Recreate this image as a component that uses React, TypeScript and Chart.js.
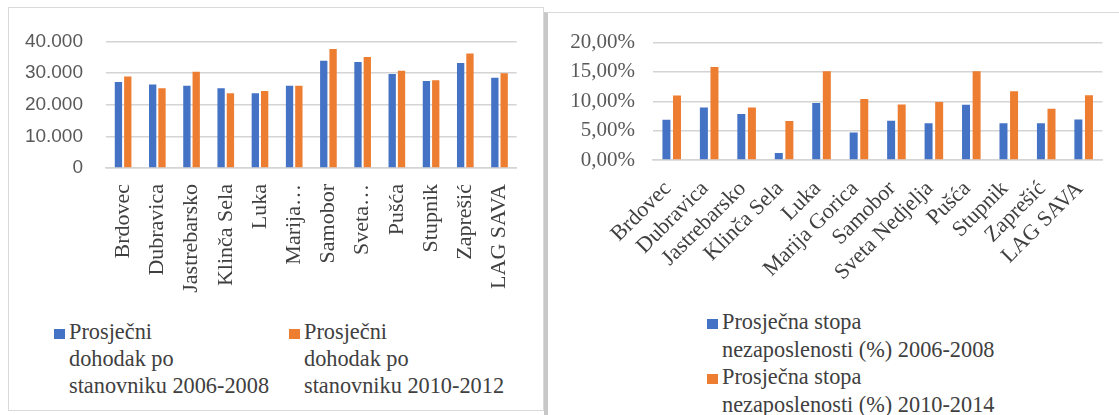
import React, { useEffect, useRef } from 'react';
import { Chart, registerables } from 'chart.js';

Chart.register(...registerables);

// ---- data ----
const categories = ['Brdovec', 'Dubravica', 'Jastrebarsko', 'Klinča Sela', 'Luka', 'Marija Gorica', 'Samobor', 'Sveta Nedjelja', 'Pušća', 'Stupnik', 'Zaprešić', 'LAG SAVA'];
const incomeCategoryLabels = ['Brdovec', 'Dubravica', 'Jastrebarsko', 'Klinča Sela', 'Luka', 'Marija…', 'Samobor', 'Sveta…', 'Pušća', 'Stupnik', 'Zaprešić', 'LAG SAVA'];

const income2006_2008 = [27200, 26400, 26000, 25200, 23600, 26000, 33900, 33500, 29700, 27500, 33200, 28500];
const income2010_2012 = [28900, 25200, 30400, 23600, 24300, 26000, 37600, 35100, 30700, 27700, 36200, 29900];

const unemployment2006_2008 = [6.85, 8.95, 7.85, 1.2, 9.7, 4.7, 6.7, 6.25, 9.4, 6.25, 6.25, 6.9];
const unemployment2010_2014 = [11.0, 15.85, 8.95, 6.65, 15.1, 10.4, 9.45, 9.9, 15.1, 11.7, 8.75, 11.05];

const incomeTickLabels = ['0', '10.000', '20.000', '30.000', '40.000'];
const unemploymentTickLabels = ['0,00%', '5,00%', '10,00%', '15,00%', '20,00%'];

const incomeSeriesNames = ['Prosječni dohodak po stanovniku 2006-2008', 'Prosječni dohodak po stanovniku 2010-2012'];
const incomeLegendLines = [
  ['Prosječni', 'dohodak po', 'stanovniku 2006-2008'],
  ['Prosječni', 'dohodak po', 'stanovniku 2010-2012'],
];
const unemploymentSeriesNames = ['Prosječna stopa nezaposlenosti (%) 2006-2008', 'Prosječna stopa nezaposlenosti (%) 2010-2014'];
const unemploymentLegendLines = [
  ['Prosječna stopa', 'nezaposlenosti (%) 2006-2008'],
  ['Prosječna stopa', 'nezaposlenosti (%) 2010-2014'],
];

const BLUE = '#4472C4';
const ORANGE = '#ED7D31';
const GRID = '#d4d4d4';
const SERIF = '"Liberation Serif", "Times New Roman", serif';
const SANS = '"Liberation Sans", Arial, sans-serif';

function useBarChart(
  ref: React.RefObject<HTMLCanvasElement>,
  cfg: {
    labels: string[];
    series: { name: string; data: number[]; color: string }[];
    max: number;
    step: number;
    tickLabels: string[];
    yFont: any;
    yPadding: number;
    yWidth: number;
    xHeight: number;
    xRotation: number;
    xPadding: number;
    xLabelOffset: number;
    layoutPadding: any;
    categoryPercentage: number;
    barPercentage: number;
  }
) {
  useEffect(() => {
    if (!ref.current) return;
    const chart = new Chart(ref.current, {
      type: 'bar',
      data: {
        labels: cfg.labels,
        datasets: cfg.series.map((s) => ({
          label: s.name,
          data: s.data,
          backgroundColor: s.color,
          borderWidth: 0,
          categoryPercentage: cfg.categoryPercentage,
          barPercentage: cfg.barPercentage,
        })),
      },
      options: {
        responsive: false,
        animation: false,
        devicePixelRatio: 1,
        layout: { padding: cfg.layoutPadding },
        plugins: { legend: { display: false }, tooltip: { enabled: false } },
        scales: {
          x: {
            grid: { display: false, drawTicks: false },
            border: { display: true, color: GRID, width: 1.5 },
            ticks: {
              autoSkip: false,
              minRotation: cfg.xRotation,
              maxRotation: cfg.xRotation,
              padding: cfg.xPadding,
              labelOffset: cfg.xLabelOffset,
              color: '#404040',
              font: { family: SERIF, size: 22 },
            },
            afterFit: (scale: any) => {
              scale.height = cfg.xHeight;
            },
          },
          y: {
            min: 0,
            max: cfg.max,
            grid: { color: GRID, lineWidth: 1.5, drawTicks: false },
            border: { display: false },
            ticks: {
              stepSize: cfg.step,
              padding: cfg.yPadding,
              color: '#595959',
              font: cfg.yFont,
              callback: (_v: any, i: number) => cfg.tickLabels[i],
            },
            afterFit: (scale: any) => {
              scale.width = cfg.yWidth;
            },
          },
        },
      },
    });
    return () => chart.destroy();
  }, []);
}

function LegendItem({ lines, color, left, top, lineHeight }: { lines: string[]; color: string; left: number; top: number; lineHeight: number }) {
  return (
    <div
      style={{
        position: 'absolute',
        left,
        top,
        display: 'flex',
        alignItems: 'flex-start',
        fontFamily: SERIF,
        fontSize: 22.3,
        color: '#404040',
        lineHeight: lineHeight + 'px',
        whiteSpace: 'nowrap',
      }}
    >
      <div style={{ width: 11, height: 10, background: color, marginTop: Math.round(lineHeight / 2 - 3), marginRight: 4, flex: 'none' }} />
      <div>
        {lines.map((l, j) => (
          <div key={j}>{l}</div>
        ))}
      </div>
    </div>
  );
}

export default function App() {
  const leftRef = useRef<HTMLCanvasElement>(null);
  const rightRef = useRef<HTMLCanvasElement>(null);

  useBarChart(leftRef, {
    labels: incomeCategoryLabels,
    series: [
      { name: incomeSeriesNames[0], data: income2006_2008, color: BLUE },
      { name: incomeSeriesNames[1], data: income2010_2012, color: ORANGE },
    ],
    max: 40000,
    step: 10000,
    tickLabels: incomeTickLabels,
    yFont: { family: SANS, size: 19 },
    yPadding: 23,
    yWidth: 98,
    xHeight: 139,
    xRotation: 90,
    xPadding: 16,
    xLabelOffset: 0,
    layoutPadding: { left: 0, right: 26, top: 29, bottom: 0 },
    categoryPercentage: 0.545,
    barPercentage: 0.785,
  });

  useBarChart(rightRef, {
    labels: categories,
    series: [
      { name: unemploymentSeriesNames[0], data: unemployment2006_2008, color: BLUE },
      { name: unemploymentSeriesNames[1], data: unemployment2010_2014, color: ORANGE },
    ],
    max: 20,
    step: 5,
    tickLabels: unemploymentTickLabels,
    yFont: { family: SERIF, size: 21 },
    yPadding: 18,
    yWidth: 105,
    xHeight: 142,
    xRotation: 45,
    xPadding: 16,
    xLabelOffset: -4,
    layoutPadding: { left: 0, right: 16, top: 27, bottom: 0 },
    categoryPercentage: 0.565,
    barPercentage: 0.755,
  });

  return (
    <div style={{ position: 'absolute', left: 0, top: 0, width: 1119, height: 415, overflow: 'hidden', background: '#fff' }}>
      <div style={{ position: 'absolute', left: 8, top: 7, width: 534, height: 402, border: '1px solid #d9d9d9' }} />
      <div style={{ position: 'absolute', left: 544, top: 12, width: 600, height: 420, borderLeft: '4px solid #c8c8c8', borderTop: '1px solid #d9d9d9' }} />
      <canvas ref={leftRef} width={535} height={300} style={{ position: 'absolute', left: 8, top: 7, width: 535, height: 300 }} />
      <canvas ref={rightRef} width={571} height={290} style={{ position: 'absolute', left: 548, top: 12, width: 571, height: 290 }} />
      <LegendItem lines={incomeLegendLines[0]} color={BLUE} left={54} top={318} lineHeight={27} />
      <LegendItem lines={incomeLegendLines[1]} color={ORANGE} left={289} top={318} lineHeight={27} />
      <LegendItem lines={unemploymentLegendLines[0]} color={BLUE} left={707} top={308} lineHeight={27.5} />
      <LegendItem lines={unemploymentLegendLines[1]} color={ORANGE} left={707} top={363} lineHeight={27.5} />
    </div>
  );
}
